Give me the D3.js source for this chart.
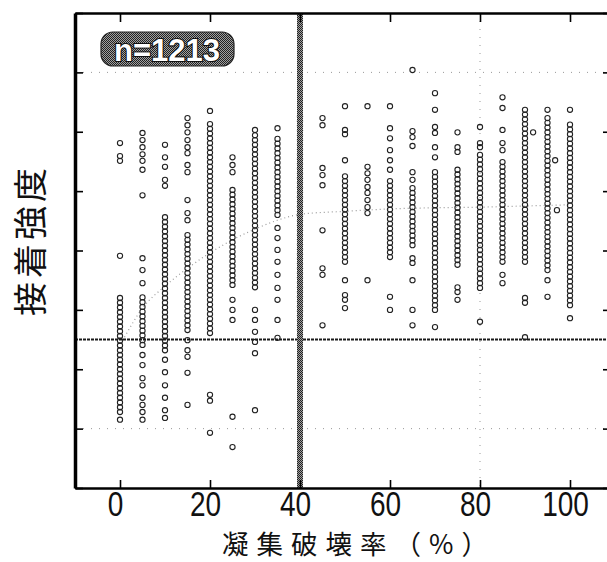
<!DOCTYPE html>
<html>
<head>
<meta charset="utf-8">
<script src="https://cdn.jsdelivr.net/npm/d3@7"></script>
<style>
  html, body { margin: 0; padding: 0; background: #fff; }
  svg { display: block; }
</style>
</head>
<body>
<svg id="chart" width="607" height="562"></svg>
<script>
// Cohesive failure rate (%) categories
const failureRates = [0, 5, 10, 15, 20, 25, 30, 35, 40, 45, 50, 55, 60, 65, 70, 75, 80, 85, 90, 95, 100];

// Bond strength readings for each failure-rate category
const s000 = [11.5,12.8,13.6,14.4,15.2,16.0,16.8,17.6,18.4,19.2,20.0,20.8,21.6,22.4,23.2,24.0,24.8,25.6,26.4,27.2,28.0,28.8,29.6,30.4,31.2,32.0,39.1,55.1,55.9,58.1];
const s005 = [11.5,12.8,14.0,15.2,17.3,18.5,20.7,22.4,24.1,24.9,25.7,26.5,27.3,28.1,28.9,29.7,30.5,31.3,32.1,34.5,36.7,38.7,49.3,53.6,55.1,56.2,57.4,58.6,59.8];
const s010 = [11.8,13.1,15.2,17.3,19.5,21.6,23.2,24.0,24.8,25.6,26.4,27.2,28.0,28.8,29.6,30.4,31.2,32.0,32.8,33.6,34.4,35.2,36.0,36.8,37.6,38.4,39.2,40.0,40.8,41.6,42.4,43.2,44.0,44.8,45.6,50.9,51.9,54.1,55.7,57.8];
const s015 = [14.0,19.4,22.1,23.2,24.9,26.6,27.4,28.2,29.0,29.8,30.6,31.4,32.2,33.0,33.8,34.6,35.4,36.2,37.0,37.8,38.6,39.4,40.2,41.0,41.8,42.6,45.1,46.3,48.5,53.2,54.4,56.4,57.4,58.6,59.9,61.1,62.3];
const s020 = [9.3,14.7,15.7,26.1,26.9,27.7,28.5,29.3,30.1,30.9,31.7,32.5,33.3,34.1,34.9,35.7,36.5,37.3,38.1,38.9,39.7,40.5,41.3,42.1,42.9,43.7,44.5,45.3,46.1,46.9,47.7,48.5,49.3,50.1,50.9,51.7,52.5,53.3,54.1,54.9,55.7,56.5,57.3,58.1,58.9,59.7,60.5,61.3,63.5];
const s025 = [6.9,12.0,28.3,30.0,31.7,34.2,35.0,35.8,36.6,37.4,38.2,39.0,39.8,40.6,41.4,42.2,43.0,43.8,44.6,45.4,46.2,47.0,47.8,48.6,49.4,50.2,53.2,54.4,55.7];
const s030 = [13.1,22.7,24.6,26.3,28.3,30.0,33.8,34.6,35.4,36.2,37.0,37.8,38.6,39.4,40.2,41.0,41.8,42.6,43.4,44.2,45.0,45.8,46.6,47.4,48.2,49.0,49.8,50.6,51.4,52.2,53.0,53.8,54.6,55.4,56.2,57.0,57.8,58.6,59.4,60.3];
const s035 = [25.3,28.3,31.7,33.7,35.9,38.1,40.1,42.1,43.8,46.0,46.8,47.6,48.4,49.2,50.0,50.8,51.6,52.4,53.2,54.0,54.8,55.6,56.4,57.2,58.0,58.8,60.6];
const s040 = [25.8,26.6,27.4,28.2,29.0,29.8,30.6,31.4,32.2,33.0,33.8,34.6,35.4,36.2,37.0,37.8,38.6,39.4,40.2,41.0,41.8,42.6,43.4,44.2,45.0,45.8,46.6,47.4,48.2,49.0,49.8,50.6,51.4,52.2,53.0,53.8,54.6,55.4,56.2,57.0,57.8,58.6,59.4,60.2,61.0,61.8,62.6];
const s045 = [27.4,35.9,37.0,43.4,51.0,52.7,53.9,61.1,62.3];
const s050 = [30.3,31.7,32.5,35.0,38.1,38.9,39.7,40.5,41.3,42.1,42.9,43.7,44.5,45.3,46.1,46.9,47.7,48.5,49.3,50.1,50.9,51.7,52.5,55.2,59.6,60.3,64.3];
const s055 = [35.0,46.3,47.3,48.5,49.7,50.7,51.9,53.0,54.1,64.3];
const s060 = [30.0,32.2,38.9,39.7,40.5,41.3,42.1,42.9,43.7,44.5,45.3,46.1,46.9,47.7,48.5,49.3,50.1,50.9,51.7,53.6,55.2,56.9,58.9,60.6,64.3];
const s065 = [27.4,30.0,35.0,37.9,38.7,40.9,41.7,42.5,43.3,44.1,44.9,45.7,46.5,47.3,48.1,48.9,49.7,50.5,51.9,53.2,57.6,59.1,60.1,70.4];
const s070 = [27.1,30.0,30.8,31.6,32.4,33.2,34.0,34.8,35.6,36.4,37.2,38.0,38.8,39.6,40.4,41.2,42.0,42.8,43.6,44.4,45.2,46.0,46.8,47.6,48.4,49.2,50.0,50.8,51.6,52.4,53.2,55.7,57.4,59.8,60.8,63.7,66.5];
const s075 = [31.7,33.0,33.8,37.6,38.4,39.2,40.0,40.8,41.6,42.4,43.2,44.0,44.8,45.6,46.4,47.2,48.0,48.8,49.6,50.4,51.2,52.0,52.8,53.6,56.6,57.4,59.9];
const s080 = [28.0,33.7,34.5,35.3,36.1,36.9,37.7,38.5,39.3,40.1,40.9,41.7,42.5,43.3,44.1,44.9,45.7,46.5,47.3,48.1,48.9,49.7,50.5,51.3,52.1,52.9,53.7,54.5,55.3,56.1,57.4,58.1,60.8];
const s085 = [34.5,35.9,38.1,38.9,39.7,40.5,41.3,42.1,42.9,43.7,44.5,45.3,46.1,46.9,47.7,48.5,49.3,50.1,50.9,51.7,52.5,53.3,54.1,54.9,56.9,58.1,60.3,64.0,65.8];
const s090 = [25.4,31.2,32.0,38.1,38.9,39.7,40.5,41.3,42.1,42.9,43.7,44.5,45.3,46.1,46.9,47.7,48.5,49.3,50.1,50.9,51.7,52.5,53.3,54.1,54.9,55.7,56.5,57.3,58.1,58.9,59.7,60.5,61.3,62.1,62.9,63.7];
const s095 = [32.2,35.0,36.7,37.5,38.3,39.1,39.9,40.7,41.5,42.3,43.1,43.9,44.7,45.5,46.3,47.1,47.9,48.7,49.5,50.3,51.1,51.9,52.7,53.5,54.3,55.1,55.9,56.7,57.5,58.3,59.1,59.9,60.7,61.5,62.3,63.7];
const s100 = [28.6,30.8,31.6,32.4,33.2,34.0,34.8,35.6,36.4,37.2,38.0,38.8,39.6,40.4,41.2,42.0,42.8,43.6,44.4,45.2,46.0,46.8,47.6,48.4,49.2,50.0,50.8,51.6,52.4,53.2,54.0,54.8,55.6,56.4,57.2,58.0,58.8,59.6,60.4,61.2,63.7];
const strengthColumns = [s000, s005, s010, s015, s020, s025, s030, s035, s040, s045, s050, s055, s060, s065, s070, s075, s080, s085, s090, s095, s100];

// A few readings recorded between the 5 % steps
const extraRates = [91.8, 96.7, 97.1];
const extraStrength = [59.9, 55.2, 46.8];

// Fitted trend of strength against failure rate
const trendRates = [1, 5, 10, 15, 20, 25, 30, 35, 40, 50, 60, 70, 80, 90, 100];
const trendStrength = [25.4, 30.3, 34.0, 37.0, 39.6, 41.8, 43.6, 45.1, 46.1, 46.6, 47.0, 47.2, 47.3, 47.5, 47.7];

// Axis ticks and reference lines
const xTicks = [0, 20, 40, 60, 80, 100];
const yTicks = [0, 10, 20, 30, 40, 50, 60, 70, 80];
const gridRates = [80];
const gridStrength = [10, 70];
const criticalRate = 40;
const criticalStrength = 25;
const sampleCount = 1213;
const xTitle = "凝集破壊率（%）";
const yTitle = "接着強度";

const svg = d3.select("#chart");
const x = d3.scaleLinear().domain([-10, 110]).range([75, 615]);
const y = d3.scaleLinear().domain([0, 80]).range([488, 13]);

const defs = svg.append("defs");
const dither = defs.append("pattern")
  .attr("id", "dither").attr("patternUnits", "userSpaceOnUse")
  .attr("width", 2).attr("height", 2);
dither.append("rect").attr("width", 2).attr("height", 2).attr("fill", "#a0a0a0");
dither.append("rect").attr("width", 1).attr("height", 1).attr("fill", "#222");
dither.append("rect").attr("x", 1).attr("y", 1).attr("width", 1).attr("height", 1).attr("fill", "#222");

defs.append("clipPath").attr("id", "plot-clip")
  .append("rect").attr("x", 75).attr("y", 13).attr("width", 540).attr("height", 475);

const plot = svg.append("g").attr("clip-path", "url(#plot-clip)");

// faint dotted grid fragments
plot.selectAll("line.gy").data(gridStrength).join("line")
  .attr("class", "gy")
  .attr("x1", x(-10)).attr("x2", x(110))
  .attr("y1", d => y(d)).attr("y2", d => y(d))
  .attr("stroke", "#999").attr("stroke-width", 1).attr("stroke-dasharray", "1,7");
plot.selectAll("line.gx").data(gridRates).join("line")
  .attr("class", "gx")
  .attr("x1", d => x(d)).attr("x2", d => x(d))
  .attr("y1", y(80)).attr("y2", y(0))
  .attr("stroke", "#999").attr("stroke-width", 1).attr("stroke-dasharray", "1,7");

// trend curve
const trendLine = d3.line().curve(d3.curveMonotoneX)
  .x((d, i) => x(trendRates[i])).y(d => y(d));
plot.append("path").datum(trendStrength)
  .attr("d", trendLine)
  .attr("fill", "none").attr("stroke", "#9a9a9a")
  .attr("stroke-width", 1.2).attr("stroke-dasharray", "1,3");

// sample points
const points = [];
failureRates.forEach((r, i) => strengthColumns[i].forEach(v => points.push([r, v])));
extraRates.forEach((r, i) => points.push([r, extraStrength[i]]));
plot.selectAll("circle.pt").data(points).join("circle")
  .attr("class", "pt")
  .attr("cx", d => x(d[0])).attr("cy", d => y(d[1]))
  .attr("r", 2.6)
  .attr("fill", "none").attr("stroke", "#222").attr("stroke-width", 1.1);

// critical strength line
plot.append("line")
  .attr("x1", x(-10)).attr("x2", x(110))
  .attr("y1", y(criticalStrength)).attr("y2", y(criticalStrength))
  .attr("stroke", "#1a1a1a").attr("stroke-width", 2).attr("stroke-dasharray", "3,1");

// critical failure-rate line
plot.append("rect")
  .attr("x", x(criticalRate) - 3).attr("y", y(80))
  .attr("width", 6).attr("height", y(0) - y(80))
  .attr("fill", "url(#dither)");

// axes: ticks point inward, only the bottom carries labels
const styleDomain = (g, w) => g.select(".domain").attr("stroke", "#000").attr("stroke-width", w);

const gBottom = svg.append("g").attr("transform", `translate(0,${y(0)})`)
  .call(d3.axisBottom(x).tickValues(xTicks).tickSizeInner(-8).tickSizeOuter(0).tickPadding(3));
styleDomain(gBottom, 2.5);
gBottom.selectAll(".tick line").attr("stroke", "#000").attr("stroke-width", 1.6);
gBottom.selectAll(".tick text")
  .attr("font-family", "'Liberation Sans', Arial, sans-serif")
  .attr("font-size", 35).attr("fill", "#111")
  .attr("transform", "translate(-5,0) scale(0.8,1)");

const gTop = svg.append("g").attr("transform", `translate(0,${y(80)})`)
  .call(d3.axisTop(x).tickValues(xTicks).tickSizeInner(-9).tickSizeOuter(0).tickFormat(""));
styleDomain(gTop, 2.5);
gTop.selectAll(".tick line").attr("stroke", "#000").attr("stroke-width", 1.6);

const gLeft = svg.append("g").attr("transform", `translate(${x(-10)},0)`)
  .call(d3.axisLeft(y).tickValues(yTicks).tickSizeInner(-8).tickSizeOuter(0).tickFormat(""));
styleDomain(gLeft, 3.5);
gLeft.selectAll(".tick line").attr("stroke", "#000").attr("stroke-width", 1.6);

const gRight = svg.append("g").attr("transform", `translate(${x(110)},0)`)
  .call(d3.axisRight(y).tickValues(yTicks).tickSizeInner(-12).tickSizeOuter(0).tickFormat(""));
styleDomain(gRight, 2.5);
gRight.selectAll(".tick line").attr("stroke", "#000").attr("stroke-width", 1.6);

// sample-count badge
const badge = svg.append("g");
badge.append("rect")
  .attr("x", 101).attr("y", 32).attr("width", 133).attr("height", 34).attr("rx", 12)
  .attr("fill", "url(#dither)").attr("stroke", "#222").attr("stroke-width", 1.2);
badge.append("text")
  .attr("x", 167).attr("y", 61)
  .attr("text-anchor", "middle")
  .attr("font-family", "'Liberation Sans', Arial, sans-serif")
  .attr("font-size", 31).attr("font-weight", "bold")
  .attr("fill", "#fff").attr("stroke", "#111").attr("stroke-width", 2.2)
  .attr("paint-order", "stroke")
  .text(`n=${sampleCount}`);

// axis titles
svg.append("text")
  .attr("x", 222).attr("y", 554)
  .attr("font-family", "'Noto Sans CJK JP', sans-serif")
  .attr("font-size", 26.5).attr("letter-spacing", 8).attr("fill", "#111")
  .text(xTitle);

svg.append("text")
  .attr("transform", "translate(28,240) rotate(-90)")
  .attr("text-anchor", "middle").attr("dominant-baseline", "central")
  .attr("font-family", "'Noto Sans CJK JP', sans-serif")
  .attr("font-size", 34).attr("letter-spacing", 4).attr("fill", "#111")
  .text(yTitle);
</script>
</body>
</html>
